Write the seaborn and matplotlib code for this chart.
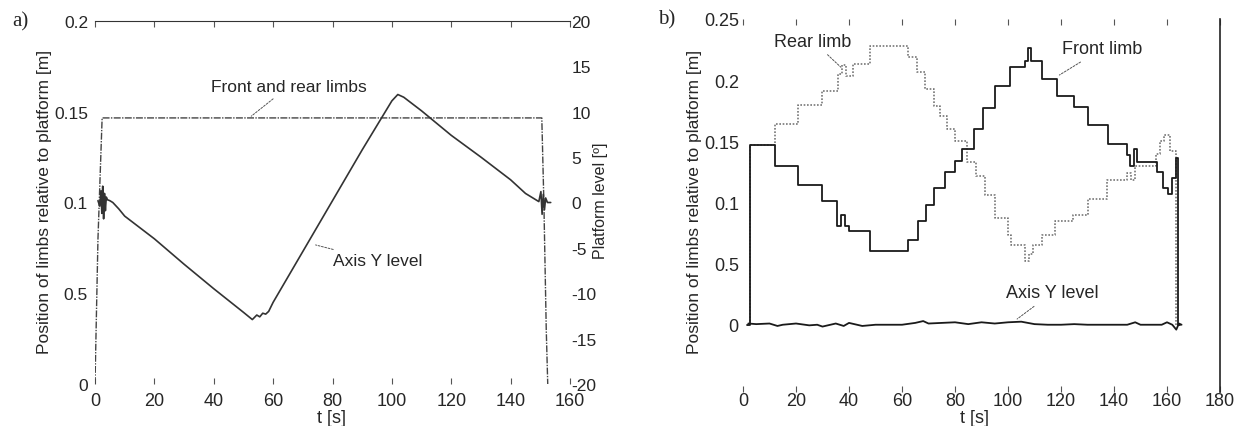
import seaborn as sns
import matplotlib.pyplot as plt
import pandas as pd

# ---- panel a) : platform tilted, limbs held still ----
a_limbs_t = [0.0, 1.0, 2.4, 150.5, 151.2, 152.0, 152.5]
a_limbs_pos = [0.0, 0.08, 0.1466, 0.1466, 0.10, 0.03, 0.0]

a_axis_t = [1.0, 1.6, 2.0, 2.3, 2.6, 2.9, 3.2, 3.5, 3.8, 4.2, 5.0, 6.0, 8.0, 10.0,
            20.0, 30.0, 40.0, 50.0, 53.0, 54.5, 55.5, 56.5, 57.5, 58.5, 60.0, 70.0,
            80.0, 90.0, 100.0, 102.0, 104.0, 110.0, 120.0, 130.0, 140.0, 145.0,
            148.0, 149.5, 150.2, 150.6, 151.0, 151.4, 151.8, 152.4, 153.5]
a_axis_deg = [0.2, -0.4, 1.3, -1.2, 1.8, -1.8, 1.0, -0.9, 0.6, 0.3, 0.2, 0.0, -0.7, -1.5,
              -4.0, -6.8, -9.5, -12.1, -12.9, -12.4, -12.6, -12.2, -12.3, -12.0, -11.0, -5.4,
              0.2, 5.8, 11.2, 11.9, 11.6, 10.1, 7.4, 5.0, 2.5, 1.0, 0.4, 0.1, 1.2, -1.3,
              0.9, -0.8, 0.5, 0.0, 0.0]

a_left_ticks = [0, 0.05, 0.1, 0.15, 0.2]
a_left_labels = ["0", "0.5", "0.1", "0.15", "0.2"]
a_right_ticks = [-20, -15, -10, -5, 0, 5, 10, 15, 20]
a_x_ticks = [0, 20, 40, 60, 80, 100, 120, 140, 160]

# ---- panel b) : platform level, limbs stepping ----
b_front_t = [1.5, 2.5, 12.0, 20.7, 29.8, 35.4, 37.0, 38.5, 40.0, 48.0, 62.3, 66.0, 69.0,
             72.0, 76.4, 80.0, 82.5, 87.0, 90.6, 95.0, 100.7, 106.4, 107.6, 108.6,
             112.8, 118.4, 125.0, 130.0, 137.8, 144.8, 146.0, 147.5, 148.8, 156.2,
             158.5, 160.3, 162.0, 163.4, 164.0, 165.0]
b_front_pos = [0.0, 0.147, 0.130, 0.114, 0.101, 0.081, 0.090, 0.081, 0.0765, 0.060,
               0.069, 0.085, 0.098, 0.112, 0.125, 0.134, 0.144, 0.160, 0.177, 0.195,
               0.211, 0.216, 0.226, 0.216, 0.201, 0.187, 0.178, 0.163, 0.148, 0.139,
               0.130, 0.144, 0.133, 0.125, 0.112, 0.107, 0.120, 0.136, 0.0, 0.0]

b_rear_t = [1.5, 2.5, 12.0, 20.7, 29.8, 35.7, 37.5, 39.0, 41.5, 48.0, 62.3, 65.6, 68.8,
            72.0, 74.5, 77.0, 80.0, 84.5, 88.0, 91.3, 95.0, 100.0, 101.0, 106.4, 108.0,
            109.4, 113.0, 117.7, 124.6, 130.0, 137.3, 145.0, 146.5, 148.0, 156.0,
            157.5, 159.0, 161.0, 163.4, 164.5]
b_rear_pos = [0.0, 0.147, 0.164, 0.180, 0.191, 0.205, 0.212, 0.203, 0.213, 0.228,
              0.219, 0.207, 0.193, 0.179, 0.171, 0.160, 0.150, 0.133, 0.122, 0.106,
              0.087, 0.073, 0.065, 0.052, 0.058, 0.065, 0.073, 0.085, 0.090, 0.103,
              0.118, 0.124, 0.118, 0.130, 0.140, 0.150, 0.155, 0.142, 0.0, 0.0]

b_axis_t = [2, 5, 10, 13, 15, 20, 25, 28, 30, 35, 38, 40, 45, 50, 55, 60, 65, 68, 70, 75,
            80, 85, 90, 95, 100, 105, 110, 115, 120, 125, 130, 135, 140, 145, 148, 150,
            155, 158, 160, 162, 163.5, 164.5, 165.5]
b_axis_pos = [0.001, 0.0005, 0.001, -0.001, 0.0, 0.001, -0.0005, 0.0, -0.0015, 0.001,
              -0.001, 0.0015, -0.001, 0.0, 0.0, 0.0, 0.0015, 0.003, 0.001, 0.0015,
              0.002, 0.0005, 0.002, 0.001, 0.002, 0.0025, 0.0005, 0.0, 0.0, 0.0005,
              0.0, 0.0, 0.0, 0.0, 0.002, 0.0, 0.0, 0.0, 0.002, 0.0, -0.004, 0.001, 0.0]

b_left_ticks = [0, 0.05, 0.1, 0.15, 0.2, 0.25]
b_left_labels = ["0", "0.5", "0.1", "0.15", "0.2", "0.25"]
b_x_ticks = [0, 20, 40, 60, 80, 100, 120, 140, 160, 180]


def style_font():
    sns.set_style("white")
    plt.rcParams["font.family"] = ["Liberation Sans", "DejaVu Sans"]
    plt.rcParams["axes.unicode_minus"] = False


def draw_panel_a(fig):
    ax = fig.add_axes([95 / 1242, 1 - 385 / 427, 475 / 1242, 363 / 427])
    ax2 = ax.twinx()

    df_limbs = pd.DataFrame({"t": a_limbs_t, "pos": a_limbs_pos})
    df_axis = pd.DataFrame({"t": a_axis_t, "deg": a_axis_deg})

    sns.lineplot(data=df_limbs, x="t", y="pos", ax=ax, estimator=None, sort=False,
                 color="#444444", lw=1.0, linestyle=(0, (5, 1, 1, 1)))
    sns.lineplot(data=df_axis, x="t", y="deg", ax=ax2, estimator=None, sort=False,
                 color="#333333", lw=1.2)

    ax.set_xlim(0, 160)
    ax.set_ylim(0, 0.2)
    ax2.set_ylim(-20, 20)

    for s in ["left", "right", "bottom"]:
        ax.spines[s].set_visible(False)
    ax.spines["top"].set_color("#333333")
    for s in ax2.spines.values():
        s.set_visible(False)

    ax.set_xticks(a_x_ticks)
    ax.set_yticks(a_left_ticks)
    ax.set_yticklabels(a_left_labels)
    ax2.set_yticks(a_right_ticks)
    ax.tick_params(axis="x", direction="in", length=4, top=True, bottom=True,
                   labelsize=13, pad=6, color="#555555")
    ax.tick_params(axis="y", length=0, labelsize=12.5, pad=5)
    ax2.tick_params(axis="y", length=0, labelsize=12.5, pad=1)

    ax.set_xlabel("t [s]", fontsize=13)
    ax.xaxis.set_label_coords(0.497, -0.068)
    ax.set_ylabel("Position of limbs relative to platform [m]", fontsize=12.5)
    ax.yaxis.set_label_coords(-0.09, 0.504)
    ax2.set_ylabel("Platform level [º]", fontsize=11.5)
    ax2.yaxis.set_label_coords(1.048, 0.507)

    leader = dict(arrowstyle="-", color="#555555", lw=0.7, linestyle=(0, (2, 1.5)))
    ax.annotate("Front and rear limbs", xy=(51.9, 0.1466), xytext=(65.3, 0.164),
                ha="center", va="center", fontsize=12.5, arrowprops=leader)
    ax.annotate("Axis Y level", xy=(73.4, 0.077), xytext=(80.2, 0.0678),
                ha="left", va="center", fontsize=12.5, arrowprops=leader)


def draw_panel_b(fig):
    ax = fig.add_axes([743 / 1242, 1 - 393 / 427, 477 / 1242, 373 / 427])

    df_front = pd.DataFrame({"t": b_front_t, "pos": b_front_pos})
    df_rear = pd.DataFrame({"t": b_rear_t, "pos": b_rear_pos})
    df_axis = pd.DataFrame({"t": b_axis_t, "pos": b_axis_pos})

    sns.lineplot(data=df_rear, x="t", y="pos", ax=ax, estimator=None, sort=False,
                 drawstyle="steps-post", color="#777777", lw=1.2, linestyle=(0, (1, 1)))
    sns.lineplot(data=df_front, x="t", y="pos", ax=ax, estimator=None, sort=False,
                 drawstyle="steps-post", color="#1a1a1a", lw=1.3)
    sns.lineplot(data=df_axis, x="t", y="pos", ax=ax, estimator=None, sort=False,
                 color="#1a1a1a", lw=1.3)

    ax.set_xlim(0, 180)
    ax.set_ylim(-0.055, 0.25)

    for s in ["left", "top", "bottom"]:
        ax.spines[s].set_visible(False)
    ax.spines["right"].set_color("#222222")
    ax.spines["right"].set_linewidth(1.2)

    ax.set_xticks(b_x_ticks)
    ax.set_yticks(b_left_ticks)
    ax.set_yticklabels(b_left_labels)
    ax.tick_params(axis="x", direction="in", bottom=True, top=True, length=4,
                   labelsize=13, pad=0, color="#555555")
    ax.tick_params(axis="y", length=0, labelsize=13, pad=3)

    ax.set_xlabel("t [s]", fontsize=13)
    ax.xaxis.set_label_coords(0.486, -0.045)
    ax.set_ylabel("Position of limbs relative to platform [m]", fontsize=12.5)
    ax.yaxis.set_label_coords(-0.086, 0.512)

    leader = dict(arrowstyle="-", color="#555555", lw=0.7, linestyle=(0, (2, 1.5)))
    ax.annotate("Rear limb", xy=(37.7, 0.209), xytext=(26.4, 0.232),
                ha="center", va="center", fontsize=13, arrowprops=leader)
    ax.annotate("Front limb", xy=(118.5, 0.203), xytext=(135.5, 0.2256),
                ha="center", va="center", fontsize=13, arrowprops=leader)
    ax.annotate("Axis Y level", xy=(102.6, 0.0033), xytext=(116.6, 0.026),
                ha="center", va="center", fontsize=13, arrowprops=leader)


def main():
    style_font()
    fig = plt.figure(figsize=(12.42, 4.27), dpi=100)
    draw_panel_a(fig)
    draw_panel_b(fig)
    fig.text(20 / 1242, 1 - 22 / 427, "a)", family="Liberation Serif", fontsize=15,
             ha="center", va="center")
    fig.text(667 / 1242, 1 - 20 / 427, "b)", family="Liberation Serif", fontsize=15,
             ha="center", va="center")
    fig.savefig("out.png", dpi=100)


if __name__ == "__main__":
    main()
